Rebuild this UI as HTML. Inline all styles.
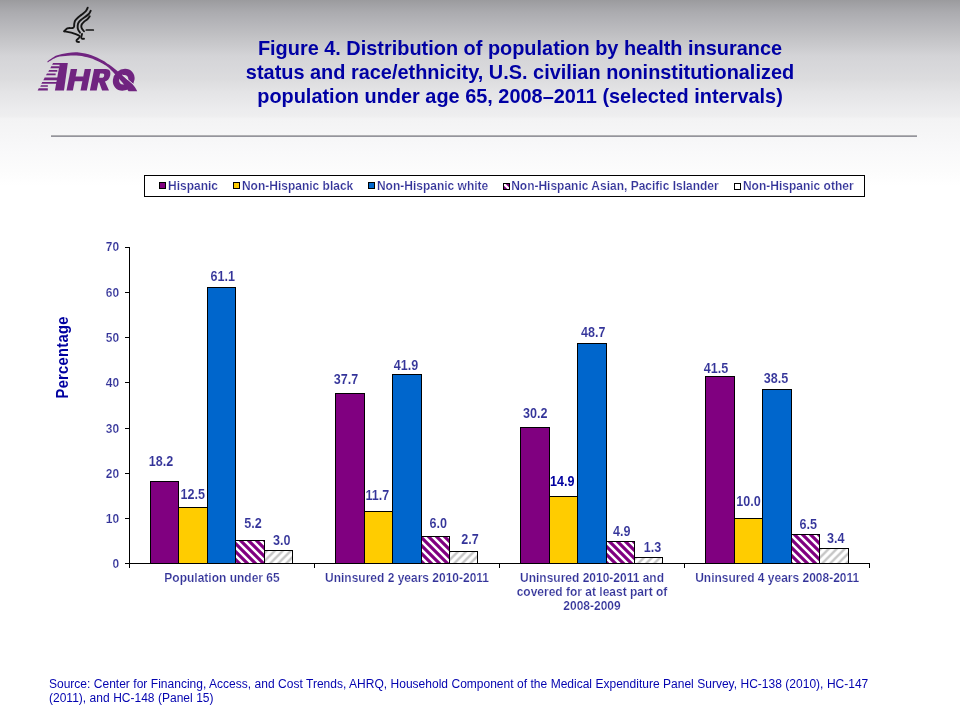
<!DOCTYPE html>
<html><head><meta charset="utf-8"><title>Figure 4</title>
<style>
html,body{margin:0;padding:0;width:960px;height:720px;overflow:hidden}
body{width:960px;height:720px;position:relative;overflow:hidden;background:#fff;font-family:"Liberation Sans",sans-serif}
#bg{position:absolute;left:0;top:0;width:960px;height:200px;background:linear-gradient(to bottom,#9b9b9e 0px,#ababaf 12px,#b6b6ba 24px,#c0c0c3 35px,#cccccf 48px,#d4d4d7 56px,#d8d8db 68px,#dcdcde 79px,#e4e4e6 92px,#ececee 110px,#eeeeef 116px,#f3f3f4 119px,#f6f6f7 136px,#f9f9fa 152px,#fcfcfc 170px,#ffffff 186px)}
#title{position:absolute;left:80px;top:37.9px;width:880px;text-align:center;font-weight:bold;font-size:19.92px;line-height:22.86px;color:#0000a4;white-space:nowrap;transform:scaleY(1.05);transform-origin:50% 41.2px;will-change:transform}
#rule{position:absolute;left:51px;top:135px;width:866px;height:1px;background:#b0b0b2}
#rule2{position:absolute;left:51px;top:136px;width:866px;height:1px;background:#94949c}
#src{position:absolute;left:48.6px;top:677px;width:880px;font-size:12px;line-height:14px;color:#0404b0;white-space:nowrap;word-spacing:0.16px;will-change:transform}
</style></head><body>
<div id="bg"></div>
<svg width="160" height="100" viewBox="0 0 160 100" style="position:absolute;left:0;top:0">
<g fill="none" stroke="#151515" stroke-width="1.9" stroke-linecap="round" stroke-linejoin="round">
<path d="M87.7 7.7C87.4 8.3 86.8 10.0 85.8 11.2C84.8 12.3 83.1 13.5 81.8 14.6C80.5 15.7 78.9 16.7 77.8 17.7C76.7 18.7 75.8 19.6 75.2 20.6C74.6 21.6 74.5 22.5 74.3 23.5C74.1 24.5 74.3 25.9 74.0 26.7C73.7 27.4 73.8 27.7 72.7 28.0C71.6 28.3 68.7 27.8 67.3 28.3C65.9 28.9 64.8 30.8 64.3 31.3"/>
<path d="M90.7 10.7C90.4 11.2 89.8 12.9 88.8 14.0C87.8 15.1 86.3 16.0 85.0 17.0C83.7 18.0 82.3 18.9 81.2 19.8C80.1 20.7 79.2 21.6 78.6 22.6C78.0 23.6 77.8 24.6 77.7 25.7C77.6 26.8 77.6 28.1 78.0 29.3C78.4 30.5 79.7 32.1 80.0 32.7"/>
<path d="M89.7 16.3C89.3 16.8 88.4 18.3 87.5 19.2C86.6 20.1 85.1 20.8 84.2 21.6C83.3 22.4 82.5 23.2 82.0 24.0C81.5 24.8 81.3 25.5 81.3 26.3C81.3 27.1 81.5 27.9 82.0 28.7C82.5 29.5 83.7 30.9 84.0 31.3"/>
<path d="M64.3 31.3C65.5 31.5 68.9 32.0 71.3 32.7C73.7 33.4 77.3 34.6 78.7 35.3C80.1 36.0 80.0 36.2 79.7 37.0C79.4 37.8 77.2 39.2 76.7 40.0C76.2 40.8 76.6 41.4 77.0 41.7C77.4 42.0 78.7 42.0 79.0 42.0"/>
<path d="M82.0 34.0C81.9 34.5 81.3 36.5 81.3 37.3C81.3 38.1 81.5 38.5 82.0 38.7C82.5 39.0 83.7 38.8 84.0 38.8"/>
<path d="M86.3 30L93.3 30" stroke-width="1.7"/>
</g>
<g fill="#702480">
<path d="M59.9 63L67.8 63L64 90.4L54.9 90.4Z"/>
<path d="M53.08 62.95L60.20 62.95L60.20 64.85L52.12 64.85Z"/>
<path d="M51.27 66.35L59.40 66.35L59.40 68.25L50.32 68.25Z"/>
<path d="M49.18 69.95L57.30 69.95L57.30 71.85L48.23 71.85Z"/>
<path d="M46.98 73.45L55.60 73.45L55.60 75.35L46.02 75.35Z"/>
<path d="M44.65 77.60L58.00 77.60L58.00 80.20L43.35 80.20Z"/>
<path d="M42.25 81.90L57.00 81.90L57.00 83.70L41.35 83.70Z"/>
<path d="M40.95 85.30L47.90 85.30L47.90 86.70L40.25 86.70Z"/>
<path d="M38.78 88.15L47.80 88.15L47.80 90.45L37.62 90.45Z"/>
</g>
<g fill="#702480" transform="translate(0,90.4) skewX(-11.3) translate(0,-90.4)">
<rect x="66.5" y="69.1" width="6.4" height="21.3"/><rect x="80.5" y="69.1" width="6.3" height="21.3"/><rect x="72" y="76.6" width="9" height="4.6"/>
<path fill-rule="evenodd" d="M89.9 69.1L101.5 69.1C105.6 69.1 107.2 72 107.2 75.2C107.2 78.6 105.6 80.8 103.2 81.6L109 90.4L102.1 90.4L97.6 82.5L96.7 82.5L96.7 90.4L89.9 90.4Z M96.7 73.6L96.7 77.8L99.2 77.8C100.6 77.8 101.2 77 101.2 75.7C101.2 74.4 100.6 73.6 99.2 73.6Z"/>
</g>
<ellipse cx="122.4" cy="79.75" rx="7.7" ry="7.85" fill="none" stroke="#702480" stroke-width="6.2" transform="translate(0,90.4) skewX(-7) translate(0,-90.4)"/>
<path d="M47.3 61.6C48.8 60.6 53.1 57.0 56.5 55.6C59.9 54.2 64.0 53.5 67.7 53.0C71.5 52.5 75.0 52.1 79.0 52.5C83.0 52.9 87.5 53.9 91.5 55.2C95.5 56.5 99.8 58.8 102.8 60.4C105.7 62.0 106.9 63.1 109.0 64.6C111.1 66.1 113.1 67.4 115.2 69.2C117.4 71.0 119.1 72.5 122.1 75.2C125.1 77.9 130.9 82.5 133.4 85.2C135.9 87.9 136.6 90.2 137.2 91.2L128.6 91.2C127.8 90.1 125.9 86.9 124.0 84.4C122.1 81.9 119.1 78.7 117.0 76.4C114.9 74.1 113.3 72.4 111.5 70.6C109.7 68.8 107.9 67.0 105.9 65.6C103.9 64.2 102.2 63.3 99.6 62.0C96.9 60.7 93.4 59.0 90.0 58.0C86.6 57.0 82.7 56.2 79.0 55.8C75.3 55.4 71.7 55.5 68.0 55.8C64.3 56.0 60.4 56.2 57.0 57.3C53.6 58.4 49.3 61.5 47.8 62.4Z" fill="#702480"/>
<path d="M122.6 74.9L133.6 84.6" stroke="#e9e9ea" stroke-width="1" fill="none"/>
</svg>
<div id="title">Figure 4. Distribution of population by health insurance<br>status and race/ethnicity, U.S. civilian noninstitutionalized<br>population under age 65, 2008–2011 (selected intervals)</div>
<div id="rule"></div><div id="rule2"></div>
<svg width="960" height="720" viewBox="0 0 960 720" style="position:absolute;left:0;top:0;will-change:transform">
<defs><pattern id="pa2" width="8" height="8" patternUnits="userSpaceOnUse" patternTransform="translate(503,183)"><rect width="8" height="8" fill="#800080"/><path d="M-1 -1L9 9" stroke="#fff" stroke-width="2.3"/></pattern></defs>
<rect x="144.5" y="175.5" width="720" height="21" fill="#fff" stroke="#000" stroke-width="1"/>
<g font-family="Liberation Sans, sans-serif" font-weight="bold" font-size="12px" fill="#333399" stroke="#fff" stroke-width="0.18">
<rect x="159.5" y="182.5" width="6" height="6" fill="#800080" stroke="#000" stroke-width="1"/>
<text transform="translate(168.00,190) scale(1,1.04)">Hispanic</text>
<rect x="233.5" y="182.5" width="6" height="6" fill="#ffcc00" stroke="#000" stroke-width="1"/>
<text transform="translate(241.95,190) scale(1,1.04)">Non-Hispanic black</text>
<rect x="368.5" y="182.5" width="6" height="6" fill="#0066cc" stroke="#000" stroke-width="1"/>
<text transform="translate(376.95,190) scale(1,1.04)">Non-Hispanic white</text>
<rect x="503.5" y="183.5" width="6" height="6" fill="url(#pa2)" stroke="#000" stroke-width="1"/>
<text transform="translate(511.15,190) scale(1,1.04)">Non-Hispanic Asian, Pacific Islander</text>
<rect x="734.5" y="183.5" width="6" height="6" fill="#fff" stroke="#000" stroke-width="1"/>
<text transform="translate(742.95,190) scale(1,1.04)">Non-Hispanic other</text>
</g></svg>
<svg width="960" height="720" viewBox="0 0 960 720" style="position:absolute;left:0;top:0;will-change:transform">
<defs>
<pattern id="pa" width="8" height="8" patternUnits="userSpaceOnUse" patternTransform="translate(4,0)"><rect width="8" height="8" fill="#fff"/><path d="M-2 -2L10 10M-2 6L2 10M6 -2L10 2" stroke="#800080" stroke-width="3.2"/></pattern>
<pattern id="po" width="8" height="8" patternUnits="userSpaceOnUse" patternTransform="translate(1.6,0)"><rect width="8" height="8" fill="#fff"/><path d="M-2 10L10 -2M-2 2L2 -2M6 10L10 6" stroke="#c6c6c6" stroke-width="2.4"/></pattern>
</defs>
<rect x="150.5" y="481.5" width="28.0" height="82.0" fill="#800080" stroke="#000" stroke-width="1"/>
<rect x="178.5" y="507.5" width="29.0" height="56.0" fill="#ffcc00" stroke="#000" stroke-width="1"/>
<rect x="207.5" y="287.5" width="28.0" height="276.0" fill="#0066cc" stroke="#000" stroke-width="1"/>
<rect x="235.5" y="540.5" width="29.0" height="23.0" fill="url(#pa)" stroke="#000" stroke-width="1"/>
<rect x="264.5" y="550.5" width="28.0" height="13.0" fill="url(#po)" stroke="#000" stroke-width="1"/>
<rect x="335.5" y="393.5" width="29.0" height="170.0" fill="#800080" stroke="#000" stroke-width="1"/>
<rect x="364.5" y="511.5" width="28.0" height="52.0" fill="#ffcc00" stroke="#000" stroke-width="1"/>
<rect x="392.5" y="374.5" width="29.0" height="189.0" fill="#0066cc" stroke="#000" stroke-width="1"/>
<rect x="421.5" y="536.5" width="28.0" height="27.0" fill="url(#pa)" stroke="#000" stroke-width="1"/>
<rect x="449.5" y="551.5" width="28.0" height="12.0" fill="url(#po)" stroke="#000" stroke-width="1"/>
<rect x="520.5" y="427.5" width="29.0" height="136.0" fill="#800080" stroke="#000" stroke-width="1"/>
<rect x="549.5" y="496.5" width="28.0" height="67.0" fill="#ffcc00" stroke="#000" stroke-width="1"/>
<rect x="577.5" y="343.5" width="29.0" height="220.0" fill="#0066cc" stroke="#000" stroke-width="1"/>
<rect x="606.5" y="541.5" width="28.0" height="22.0" fill="url(#pa)" stroke="#000" stroke-width="1"/>
<rect x="634.5" y="557.5" width="28.0" height="6.0" fill="url(#po)" stroke="#000" stroke-width="1"/>
<rect x="705.5" y="376.5" width="29.0" height="187.0" fill="#800080" stroke="#000" stroke-width="1"/>
<rect x="734.5" y="518.5" width="28.0" height="45.0" fill="#ffcc00" stroke="#000" stroke-width="1"/>
<rect x="762.5" y="389.5" width="29.0" height="174.0" fill="#0066cc" stroke="#000" stroke-width="1"/>
<rect x="791.5" y="534.5" width="28.0" height="29.0" fill="url(#pa)" stroke="#000" stroke-width="1"/>
<rect x="819.5" y="548.5" width="29.0" height="15.0" fill="url(#po)" stroke="#000" stroke-width="1"/>
<g stroke="#000" stroke-width="1" shape-rendering="crispEdges">
<line x1="129.5" y1="247" x2="129.5" y2="568"/>
<line x1="125" y1="563.5" x2="870" y2="563.5"/>
<line x1="125" y1="518.5" x2="130" y2="518.5"/>
<line x1="125" y1="473.5" x2="130" y2="473.5"/>
<line x1="125" y1="428.5" x2="130" y2="428.5"/>
<line x1="125" y1="382.5" x2="130" y2="382.5"/>
<line x1="125" y1="337.5" x2="130" y2="337.5"/>
<line x1="125" y1="292.5" x2="130" y2="292.5"/>
<line x1="125" y1="247.5" x2="130" y2="247.5"/>
<line x1="314.5" y1="563" x2="314.5" y2="568"/>
<line x1="499.5" y1="563" x2="499.5" y2="568"/>
<line x1="684.5" y1="563" x2="684.5" y2="568"/>
<line x1="869.5" y1="563" x2="869.5" y2="568"/>
</g>
<g font-family="Liberation Sans, sans-serif" font-weight="bold" font-size="12px" fill="#333399" stroke="#fff" stroke-width="0.18">
<text transform="translate(119.2,568) scale(1,1.04)" text-anchor="end">0</text>
<text transform="translate(119.2,523) scale(1,1.04)" text-anchor="end">10</text>
<text transform="translate(119.2,478) scale(1,1.04)" text-anchor="end">20</text>
<text transform="translate(119.2,433) scale(1,1.04)" text-anchor="end">30</text>
<text transform="translate(119.2,387) scale(1,1.04)" text-anchor="end">40</text>
<text transform="translate(119.2,342) scale(1,1.04)" text-anchor="end">50</text>
<text transform="translate(119.2,297) scale(1,1.04)" text-anchor="end">60</text>
<text transform="translate(119.2,251) scale(1,1.04)" text-anchor="end">70</text>
<text transform="translate(148.8,466) scale(1,1.15)" font-size="12.6px" stroke-width="0.08">18.2</text>
<text transform="translate(180.4,499) scale(1,1.15)" font-size="12.6px" stroke-width="0.08">12.5</text>
<text transform="translate(210.4,281) scale(1,1.15)" font-size="12.6px" stroke-width="0.08">61.1</text>
<text transform="translate(244.3,528) scale(1,1.15)" font-size="12.6px" stroke-width="0.08">5.2</text>
<text transform="translate(272.9,545) scale(1,1.15)" font-size="12.6px" stroke-width="0.08">3.0</text>
<text transform="translate(333.8,384) scale(1,1.15)" font-size="12.6px" stroke-width="0.08">37.7</text>
<text transform="translate(365.4,500) scale(1,1.15)" font-size="12.6px" stroke-width="0.08">11.7</text>
<text transform="translate(393.8,370) scale(1,1.15)" font-size="12.6px" stroke-width="0.08">41.9</text>
<text transform="translate(429.6,528) scale(1,1.15)" font-size="12.6px" stroke-width="0.08">6.0</text>
<text transform="translate(461.3,544) scale(1,1.15)" font-size="12.6px" stroke-width="0.08">2.7</text>
<text transform="translate(522.9,418) scale(1,1.15)" font-size="12.6px" stroke-width="0.08">30.2</text>
<text transform="translate(550.0,486) scale(1,1.15)" font-size="12.6px" stroke-width="0.08" fill="#0000a0" stroke="none">14.9</text>
<text transform="translate(580.9,337) scale(1,1.15)" font-size="12.6px" stroke-width="0.08">48.7</text>
<text transform="translate(612.9,536) scale(1,1.15)" font-size="12.6px" stroke-width="0.08">4.9</text>
<text transform="translate(643.8,552) scale(1,1.15)" font-size="12.6px" stroke-width="0.08">1.3</text>
<text transform="translate(703.8,373) scale(1,1.15)" font-size="12.6px" stroke-width="0.08">41.5</text>
<text transform="translate(736.3,506) scale(1,1.15)" font-size="12.6px" stroke-width="0.08">10.0</text>
<text transform="translate(763.8,383) scale(1,1.15)" font-size="12.6px" stroke-width="0.08">38.5</text>
<text transform="translate(799.6,529) scale(1,1.15)" font-size="12.6px" stroke-width="0.08">6.5</text>
<text transform="translate(827.1,543) scale(1,1.15)" font-size="12.6px" stroke-width="0.08">3.4</text>
<text transform="translate(222,582) scale(1,1.04)" text-anchor="middle">Population under 65</text>
<text transform="translate(407,582) scale(1,1.04)" text-anchor="middle">Uninsured 2 years 2010-2011</text>
<text transform="translate(592,582) scale(1,1.04)" text-anchor="middle">Uninsured 2010-2011 and</text>
<text transform="translate(592,596) scale(1,1.04)" text-anchor="middle">covered for at least part of</text>
<text transform="translate(592,610) scale(1,1.04)" text-anchor="middle">2008-2009</text>
<text transform="translate(777.2,582) scale(1,1.04)" text-anchor="middle">Uninsured 4 years 2008-2011</text>
</g>
<text transform="translate(67.5,357.4) rotate(-90) scale(1,1.13)" letter-spacing="0.3" text-anchor="middle" font-family="Liberation Sans, sans-serif" font-weight="bold" font-size="14.67px" fill="#0000a0">Percentage</text>
</svg>
<div id="src">Source: Center for Financing, Access, and Cost Trends, AHRQ, Household Component of the Medical Expenditure Panel Survey, HC-138 (2010), HC-147<br>(2011), and HC-148 (Panel 15)</div>
</body></html>
